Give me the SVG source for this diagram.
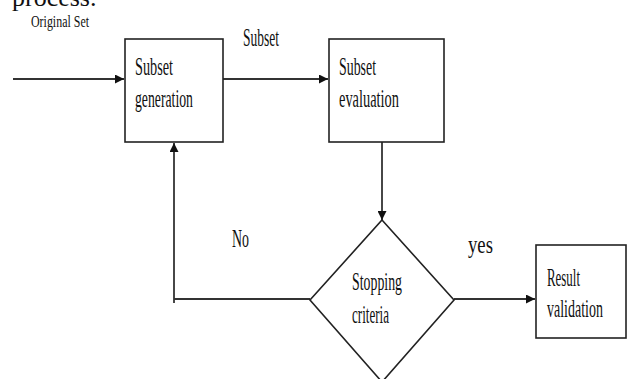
<svg xmlns="http://www.w3.org/2000/svg" width="627" height="379" viewBox="0 0 627 379">
<style>
.box{fill:#fff;stroke:#222;stroke-width:1.6}
.ln{fill:none;stroke:#333;stroke-width:1.8}
.t{font-family:"Liberation Serif","Times New Roman",serif;font-size:26px;fill:#111}
</style>
<defs>
<marker id="ah" viewBox="0 0 10 10" refX="10" refY="5" markerWidth="5.5" markerHeight="5" orient="auto" markerUnits="strokeWidth">
<path d="M0,0 L10,5 L0,10 z" fill="#111"/>
</marker>
</defs>
<text x="12" y="6" style="font-family:'Liberation Serif',serif;font-size:26px;fill:#111">process.</text>
<text class="t" x="31" y="27" style="font-size:17px" textLength="58" lengthAdjust="spacingAndGlyphs">Original Set</text>
<g id="connectors">
<line class="ln" x1="13" y1="79" x2="124" y2="79" marker-end="url(#ah)"/>
<line class="ln" x1="223" y1="79" x2="328" y2="79" marker-end="url(#ah)"/>
<line class="ln" x1="382" y1="142" x2="382" y2="220" marker-end="url(#ah)"/>
<line class="ln" x1="454" y1="299" x2="535" y2="299" marker-end="url(#ah)"/>
<polyline class="ln" points="310,299 174,299"/>
<line class="ln" x1="174" y1="303" x2="174" y2="143" marker-end="url(#ah)"/>
<text class="t" x="243" y="46" textLength="36" lengthAdjust="spacingAndGlyphs">Subset</text>
<text class="t" x="232" y="247" textLength="17" lengthAdjust="spacingAndGlyphs">No</text>
<text class="t" x="468" y="253" textLength="25" lengthAdjust="spacingAndGlyphs">yes</text>
</g>
<g id="subset-generation">
<rect class="box" x="125" y="39" width="98" height="103"/>
<text class="t" x="135" y="75" textLength="38" lengthAdjust="spacingAndGlyphs">Subset</text>
<text class="t" x="135" y="107" textLength="58" lengthAdjust="spacingAndGlyphs">generation</text>
</g>
<g id="subset-evaluation">
<rect class="box" x="329" y="39" width="115" height="103"/>
<text class="t" x="339" y="75" textLength="37" lengthAdjust="spacingAndGlyphs">Subset</text>
<text class="t" x="339" y="107" textLength="60" lengthAdjust="spacingAndGlyphs">evaluation</text>
</g>
<g id="stopping-criteria">
<polygon class="box" points="382,220 454,300 382,382 310,300"/>
<text class="t" x="352" y="290" textLength="50" lengthAdjust="spacingAndGlyphs">Stopping</text>
<text class="t" x="352" y="323" textLength="37" lengthAdjust="spacingAndGlyphs">criteria</text>
</g>
<g id="result-validation">
<rect class="box" x="536" y="245" width="90" height="93"/>
<text class="t" x="547" y="286" textLength="33" lengthAdjust="spacingAndGlyphs">Result</text>
<text class="t" x="547" y="317" textLength="56" lengthAdjust="spacingAndGlyphs">validation</text>
</g>
</svg>
